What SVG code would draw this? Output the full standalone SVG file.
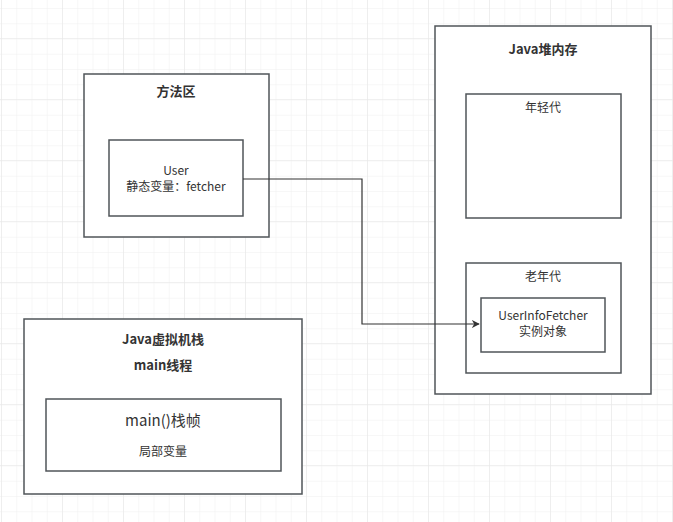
<svg xmlns="http://www.w3.org/2000/svg" width="673" height="522" viewBox="0 0 673 522">
<defs>
<pattern id="g" x="1" y="8" width="15.25" height="15.25" patternUnits="userSpaceOnUse"><path d="M0 0H15.25M0 0V15.25" stroke="#efefef" stroke-width="1" fill="none"/></pattern>
<pattern id="G" x="1" y="38" width="61" height="61" patternUnits="userSpaceOnUse"><path d="M0 0H61M0 0V61" stroke="#e6e6e6" stroke-width="1" fill="none"/></pattern>
<marker id="a" viewBox="0 0 10 10" refX="9" refY="5" markerWidth="8" markerHeight="8" orient="auto" markerUnits="userSpaceOnUse"><path d="M0 0L10 5L0 10L3 5Z" fill="#333"/></marker>
</defs>
<style>
.b{fill:#fff;stroke:#505559;stroke-width:1.5}
text{font-family:"Noto Sans CJK SC","Noto Sans",sans-serif;fill:#333;text-anchor:middle}
.t{font-size:13px;font-weight:bold}
.n{font-size:12px}
</style>
<rect width="673" height="522" fill="#fff"/>
<rect width="673" height="522" fill="url(#g)"/>
<rect width="673" height="522" fill="url(#G)"/>
<g id="method-area"><rect class="b" x="84" y="74" width="185" height="163"/><text class="t" x="176" y="96">方法区</text></g>
<g id="user"><rect class="b" x="109" y="140" width="134" height="76"/><text class="n" x="176" y="175">User</text><text class="n" x="176" y="191">静态变量：fetcher</text></g>
<g id="heap"><rect class="b" x="435" y="26" width="216" height="368"/><text class="t" x="543" y="54">Java堆内存</text></g>
<g id="young"><rect class="b" x="466" y="94" width="155" height="124"/><text class="n" x="543" y="112">年轻代</text></g>
<g id="old"><rect class="b" x="466" y="263" width="155" height="110"/><text class="n" x="543" y="281">老年代</text></g>
<g id="fetcher"><rect class="b" x="481" y="298" width="124" height="54"/><text class="n" x="543" y="320">UserInfoFetcher</text><text class="n" x="543" y="336">实例对象</text></g>
<g id="stack"><rect class="b" x="24" y="319" width="278" height="175"/><text class="t" x="163" y="344">Java虚拟机栈</text><text class="t" x="163" y="370">main线程</text></g>
<g id="frame"><rect class="b" x="46" y="399" width="235" height="72"/><text x="163" y="426" style="font-size:15px">main()栈帧</text><text class="n" x="163" y="456">局部变量</text></g>
<g id="connectors"><path d="M243 179H362V324H479" fill="none" stroke="#333" stroke-width="1.2" marker-end="url(#a)"/></g>
</svg>
